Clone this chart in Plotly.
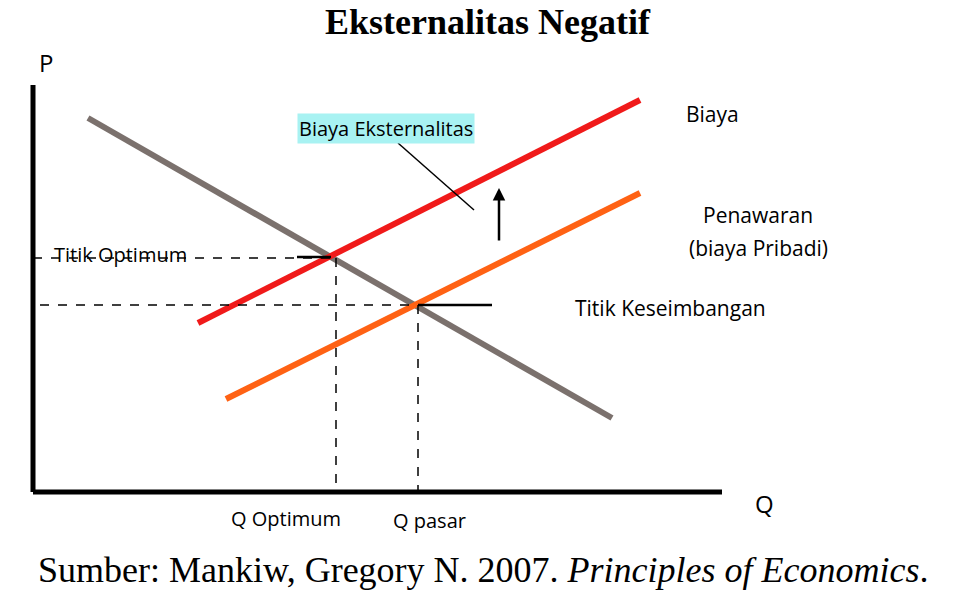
import plotly.graph_objects as go

# schematic coordinates (Q to the right, P downwards in picture units)
demand_q = [88, 612]
demand_p = [118, 418]
cost_q = [198, 640]
cost_p = [323, 100]
supply_q = [226, 640]
supply_p = [399, 193]
q_opt, p_opt = 331, 258
q_mkt, p_mkt = 418, 305
axis_q0, axis_p0 = 33, 492

fig = go.Figure()

def seg(x, y, color, width, dash="solid"):
    fig.add_trace(go.Scatter(x=x, y=y, mode="lines", showlegend=False, hoverinfo="skip",
                             line=dict(color=color, width=width, dash=dash)))

seg(demand_q, demand_p, "#7b716d", 6)
seg(cost_q, cost_p, "#f01a1a", 6)
seg(supply_q, supply_p, "#ff6214", 6)
# axes
seg([axis_q0, axis_q0], [85, axis_p0], "black", 5)
seg([axis_q0, 722], [axis_p0, axis_p0], "black", 5)
# dashed guides
seg([axis_q0, q_opt], [p_opt, p_opt], "black", 1.5, "dash")
seg([336, 336], [p_opt, axis_p0], "black", 1.5, "dash")
seg([40, q_mkt], [p_mkt, p_mkt], "black", 1.5, "dash")
seg([q_mkt, q_mkt], [p_mkt, axis_p0], "black", 1.5, "dash")
# short solid markers
seg([297, q_opt], [257, 257], "black", 2.5)
seg([q_mkt, 492], [p_mkt, p_mkt], "black", 2.5)
# pointer line
seg([398, 474], [143, 210], "black", 1.5)

fig.add_annotation(x=499, y=188, ax=499, ay=242, xref="x", yref="y", axref="x", ayref="y",
                   showarrow=True, arrowhead=2, arrowsize=1, arrowwidth=2.5, arrowcolor="black", text="")

f = "Open Sans"
def txt(x, y, s, size=18, family=f, **kw):
    fig.add_annotation(x=x, y=y, text=s, showarrow=False, font=dict(family=family, size=size, color="black"), **kw)

txt(488, 22, "<b>Eksternalitas Negatif</b>", 36, "Liberation Serif")
txt(46, 62, "P", 24)
txt(764, 503, "Q", 24)
txt(712, 114, "Biaya", 21)
txt(758, 215, "Penawaran", 21)
txt(758, 248, "(biaya Pribadi)", 21)
txt(670, 308, "Titik Keseimbangan", 21)
txt(120, 254, "Titik Optimum", 20)
txt(286, 518, "Q Optimum", 20)
txt(429, 520, "Q pasar", 20)
txt(386, 128, "Biaya Eksternalitas", 20, bgcolor="#a8f2f2", borderpad=1)
txt(483, 570, "Sumber: Mankiw, Gregory N. 2007. <i>Principles of Economics</i>.", 36, "Liberation Serif")

fig.update_layout(width=955, height=597, margin=dict(l=0, r=0, t=0, b=0),
                  plot_bgcolor="white", paper_bgcolor="white",
                  xaxis=dict(range=[8, 963], visible=False, fixedrange=True),
                  yaxis=dict(range=[605, 8], visible=False, fixedrange=True))
fig.write_html("out.html")
